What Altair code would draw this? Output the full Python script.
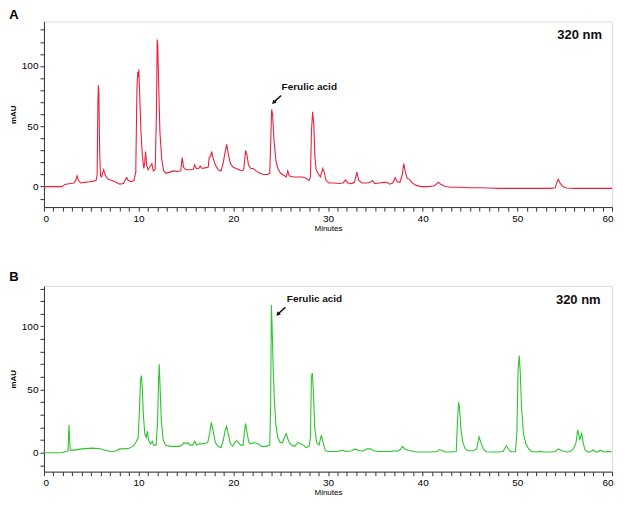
import altair as alt
import pandas as pd

# ---------------- data ----------------
time_a = [0, 1.9, 2.2, 2.8, 3.2, 3.4, 3.5, 3.65, 3.9, 4.3, 4.8, 5.2, 5.5, 5.62, 5.7, 5.75, 5.8, 5.88, 5.98,
          6.1, 6.3, 6.5, 6.8, 7.2, 7.6, 8.0, 8.4, 8.6, 8.75, 8.9, 9.2, 9.5, 9.7, 9.82, 9.9, 9.97, 10.02,
          10.12, 10.25, 10.4, 10.55, 10.65, 10.73, 10.85, 11.0, 11.25, 11.4, 11.55, 11.75, 11.88, 11.96,
          12.02, 12.1, 12.25, 12.45, 12.65, 12.9, 13.3, 13.7, 14.1, 14.45, 14.6, 14.75, 15.0, 15.5, 15.8,
          15.92, 16.1, 16.35, 16.5, 16.7, 17.0, 17.35, 17.45, 17.6, 17.72, 17.85, 18.1, 18.4, 18.7, 18.95,
          19.05, 19.3, 19.45, 19.7, 20.0, 20.3, 20.6, 20.9, 21.1, 21.3, 21.45, 21.6, 21.85, 22.1, 22.4,
          22.8, 23.2, 23.6, 23.85, 23.98, 24.05, 24.15, 24.3, 24.5, 24.7, 25.0, 25.4, 25.6, 25.75, 25.9,
          26.3, 26.8, 27.3, 27.7, 28.0, 28.15, 28.25, 28.38, 28.5, 28.62, 28.75, 28.95, 29.2, 29.45, 29.6,
          29.8, 30.1, 30.6, 31.2, 31.6, 31.85, 32.1, 32.5, 32.8, 33.05, 33.25, 33.6, 34.1, 34.45, 34.7,
          34.95, 35.4, 35.9, 36.2, 36.5, 36.85, 37.1, 37.3, 37.6, 37.85, 38.0, 38.15, 38.35, 38.6, 38.9,
          39.3, 39.8, 40.5, 41.2, 41.5, 41.66, 41.9, 42.4, 43.0, 44.0, 45.0, 46.0, 47.0, 48.0, 50.0, 52.0,
          53.5, 54.0, 54.15, 54.33, 54.5, 54.8, 55.2, 56.0, 58.0, 60.0]
mau_a = [0, 0, 1.8, 2.5, 3, 6, 9, 5, 3, 3.5, 4, 4.5, 5, 10, 70, 84, 78, 30, 9,
         8, 14, 9, 6, 5, 3.5, 2, 2.5, 6, 7.5, 5, 4, 5, 12, 80, 95, 91, 97,
         75, 45, 25, 15, 20, 29, 18, 14, 17, 19, 13, 14, 60, 122,
         118, 90, 45, 22, 13, 11, 12, 13, 12.5, 13, 24, 16, 14, 14, 14.5,
         18, 15, 15, 17, 15, 15.5, 16, 24, 25, 29, 24, 18, 14, 13, 20,
         25, 35, 28, 19, 16, 15, 14, 13, 14, 30, 26, 18, 15, 15, 13,
         11, 10, 10, 11, 45, 64, 60, 38, 22, 15, 11, 9, 8, 13, 9,
         8, 8, 8, 7, 5, 8, 45, 62, 52, 25, 14, 11, 8, 15, 12,
         5, 3, 3, 2.5, 3, 5.5, 3, 2.5, 3.5, 12, 5, 3, 3, 3.5, 5,
         2.5, 3, 3.5, 3.5, 2, 3, 7.5, 4, 3.5, 10, 19, 13, 7, 6, 3,
         1, 0, 0, 0.5, 2.5, 3.6, 2, 0, -0.5, -0.5, -1, -1, -1.2, -1.5, -1.5, -1.5,
         -1.5, -1, 3, 6, 3, 0, -1.2, -1.5, -1.5, -1.5]

time_b = [0, 1.9, 2.3, 2.55, 2.6, 2.65, 2.7, 2.78, 3.2, 4.0, 5.0, 5.8, 6.5, 7.0, 7.5, 8.0, 8.5, 9.0,
          9.4, 9.7, 9.95, 10.1, 10.2, 10.3, 10.38, 10.5, 10.65, 10.8, 10.92, 11.05, 11.25, 11.45, 11.6,
          11.85, 12.0, 12.12, 12.18, 12.25, 12.4, 12.6, 12.85, 13.3, 13.8, 14.3, 14.6, 14.8, 15.0, 15.2,
          15.4, 15.7, 15.95, 16.1, 16.4, 16.7, 17.0, 17.3, 17.5, 17.68, 17.85, 18.1, 18.4, 18.7, 18.95,
          19.15, 19.3, 19.45, 19.7, 19.95, 20.15, 20.35, 20.55, 20.8, 21.05, 21.15, 21.3, 21.45, 21.65,
          21.9, 22.2, 22.6, 23.0, 23.5, 23.85, 23.95, 24.02, 24.1, 24.2, 24.35, 24.5, 24.7, 24.95, 25.2,
          25.4, 25.6, 25.8, 26.1, 26.5, 26.8, 27.1, 27.4, 27.7, 28.0, 28.15, 28.25, 28.35, 28.45, 28.6,
          28.8, 29.05, 29.3, 29.45, 29.7, 30.0, 30.6, 31.0, 31.5, 31.9, 32.5, 32.9, 33.3, 33.8, 34.1,
          34.5, 34.8, 35.3, 36.0, 36.6, 37.0, 37.3, 37.65, 37.86, 38.1, 38.5, 39.0, 39.5, 40.0, 41.0,
          41.5, 41.8, 42.1, 42.4, 43.0, 43.55, 43.68, 43.8, 43.9, 44.05, 44.25, 44.5, 44.8, 45.3, 45.7,
          45.96, 46.15, 46.4, 46.7, 47.3, 48.0, 48.5, 48.75, 48.86, 49.0, 49.3, 49.8, 49.95, 50.08, 50.2,
          50.3, 50.45, 50.65, 50.9, 51.2, 51.5, 52.0, 52.4, 52.8, 53.5, 54.0, 54.35, 54.7, 55.2, 55.6,
          55.9, 56.05, 56.2, 56.37, 56.5, 56.58, 56.7, 56.8, 56.95, 57.15, 57.5, 57.8, 58.0, 58.2, 58.45,
          58.8, 59.0, 59.3, 59.6, 60.0]
mau_b = [0, 0, 1, 1.5, 15, 22, 12, 2, 2, 3, 3.6, 3.3, 2, 1, 1.2, 3, 3, 3.5,
         5, 8, 12, 35, 58, 61, 52, 30, 15, 12, 17, 10, 7, 9, 6,
         6, 25, 60, 70, 55, 25, 10, 6, 5, 5, 5, 6, 8, 7, 8,
         6, 6, 9, 6, 7, 7, 7.5, 8, 15, 24, 18, 8, 5, 4, 10,
         18, 21, 15, 7, 5, 8, 9.5, 8, 6, 6, 15, 23, 16, 8,
         7, 8, 7, 5, 5, 6, 40, 117, 100, 70, 40, 22, 12, 8, 8,
         12, 15, 10, 6, 5, 8, 7, 6, 4, 5, 12, 60, 63, 50, 20,
         8, 6, 14, 9, 2, 1, 1, 1, 2, 1, 1.5, 3, 1.5, 1.5, 3,
         3, 1.5, 1, 1, 1, 1.5, 1, 2.5, 5, 3, 2, 1, 0.5, 0.5, 0.5,
         1, 2.5, 1.5, 0.5, 0.5, 1, 25, 40, 35, 18, 8, 3, 1.5, 1.5, 3,
         12.5, 8, 3, 0.8, 0.5, 0.5, 1, 4.5, 5.5, 3.5, 0.8, 0.8, 15, 65, 77,
         65, 35, 15, 7, 3, 1, 0.5, 1, 0.5, 0.5, 1, 3, 1.5, 0.5, 1,
         3, 5, 8, 18, 14, 10, 13, 15, 8, 2, 0.5, 1, 2.3, 1, 0.5,
         2, 1, 0.5, 1, 0.5]

x_ticks = list(range(0, 61))          # a tick every minute, labels every 10
y_ticks = list(range(-10, 131, 10))   # a tick every 10 mAU, labels every 50

domain_a = [-17, 137]
domain_b = [-15, 132]

# annotation anchors (minutes, mAU)
ferulic_text_a = [25.1, 82.5]
ferulic_arrow_a = [25.05, 75.5, 24.3, 70.0]
nm_text_a = [58.95, 126.0]
ferulic_text_b = [25.65, 122.0]
ferulic_arrow_b = [25.5, 115.0, 24.75, 110.0]
nm_text_b = [58.8, 120.5]

FONT = "Liberation Sans"
W, H = 569, 186


def panel(times, values, color, ydom, letter, ftext, farrow, nmtext):
    df = pd.DataFrame({"t": times, "v": values})
    xs = alt.Scale(domain=[0, 60], nice=False, zero=False)
    ys = alt.Scale(domain=ydom, nice=False, zero=False)

    line = alt.Chart(df).mark_line(color=color, strokeWidth=1.1).encode(
        x=alt.X("t:Q", scale=xs, axis=alt.Axis(
            values=x_ticks, tickCount=200, labelExpr="datum.value % 10 === 0 ? datum.label : ''",
            labelOverlap=False, labelFlush=True, labelFlushOffset=1, tickSize=4, title="Minutes",
            orient="bottom", format="d", grid=False, titleFontWeight="normal", titleFontSize=8,
            titlePadding=1, labelPadding=2, domainColor="#333", tickColor="#333")),
        y=alt.Y("v:Q", scale=ys, axis=alt.Axis(
            values=y_ticks, tickCount=200, labelExpr="datum.value % 50 === 0 ? datum.label : ''",
            labelOverlap=False, labelFlush=False, tickSize=4, title="mAU", orient="left",
            format="d", grid=False, titleFontWeight="bold", titleFontSize=8, titlePadding=4,
            labelPadding=2, domainColor="#333", tickColor="#333")),
    )
    ftxt = alt.Chart(pd.DataFrame({"t": [ftext[0]], "v": [ftext[1]], "s": ["Ferulic acid"]})).mark_text(
        align="left", baseline="middle", fontSize=10, fontWeight="bold", font=FONT, color="#111"
    ).encode(x=alt.X("t:Q", scale=xs), y=alt.Y("v:Q", scale=ys), text="s:N")
    ntxt = alt.Chart(pd.DataFrame({"t": [nmtext[0]], "v": [nmtext[1]], "s": ["320 nm"]})).mark_text(
        align="right", baseline="middle", fontSize=13, fontWeight="bold", font=FONT, color="#111"
    ).encode(x=alt.X("t:Q", scale=xs), y=alt.Y("v:Q", scale=ys), text="s:N")
    adf = pd.DataFrame({"t": [farrow[0]], "v": [farrow[1]], "t2": [farrow[2]], "v2": [farrow[3]]})
    shaft = alt.Chart(adf).mark_rule(color="#111", strokeWidth=1.5).encode(
        x=alt.X("t:Q", scale=xs), y=alt.Y("v:Q", scale=ys), x2="t2:Q", y2="v2:Q")
    head = alt.Chart(adf).mark_point(shape="triangle", filled=True, color="#111", size=22, angle=225,
                                     opacity=1).encode(
        x=alt.X("t2:Q", scale=xs), y=alt.Y("v2:Q", scale=ys))

    return alt.layer(line, ftxt, ntxt, shaft, head).properties(
        width=W, height=H,
        title=alt.TitleParams(letter, anchor="start", frame="bounds", fontSize=13, fontWeight="bold",
                              font=FONT, offset=-1),
    )


pa = panel(time_a, mau_a, "#f0203c", domain_a, "A", ferulic_text_a, ferulic_arrow_a, nm_text_a)
pb = panel(time_b, mau_b, "#2ec52e", domain_b, "B", ferulic_text_b, ferulic_arrow_b, nm_text_b)

chart = alt.vconcat(pa, pb, spacing=38).properties(
    padding={"left": 0, "top": 0, "right": 0, "bottom": 0}
).configure_view(stroke="#777", strokeWidth=1).configure_axis(
    labelFont=FONT, titleFont=FONT, labelFontSize=11, labelColor="#111", titleColor="#111"
).configure(background="white")

chart.save("out.html", embed_options={"renderer": "svg", "actions": False})
